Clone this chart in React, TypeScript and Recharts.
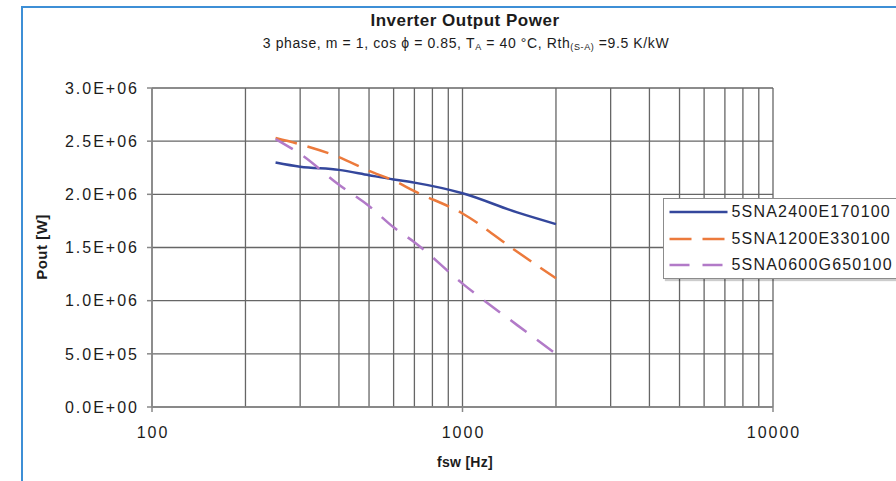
import { CartesianGrid, Legend, Line, LineChart, XAxis, YAxis } from "recharts";

const freqHz = [250, 300, 400, 500, 600, 700, 1000, 1500, 2000];
const pout2400 = [2.3e6, 2.26e6, 2.23e6, 2.18e6, 2.14e6, 2.11e6, 2.01e6, 1.83e6, 1.72e6];
const pout1200 = [2.53e6, 2.47e6, 2.35e6, 2.22e6, 2.13e6, 2.03e6, 1.82e6, 1.46e6, 1.21e6];
const pout0600 = [2.52e6, 2.38e6, 2.09e6, 1.89e6, 1.69e6, 1.55e6, 1.16e6, 0.77e6, 0.5e6];
const seriesNames = ["5SNA2400E170100", "5SNA1200E330100", "5SNA0600G650100"];

const xGridTicks = [100, 200, 300, 400, 500, 600, 700, 800, 900, 1000, 2000, 3000, 4000, 5000, 6000, 7000, 8000, 9000, 10000];
const xLabelTicks = [100, 1000, 10000];
const yTicks = [0, 5e5, 1e6, 1.5e6, 2e6, 2.5e6, 3e6];

const data = freqHz.map((f, i) => ({
  f,
  s2400: pout2400[i],
  s1200: pout1200[i],
  s0600: pout0600[i],
}));

const series = [
  { key: "s2400", name: seriesNames[0], color: "#34479c", dash: undefined },
  { key: "s1200", name: seriesNames[1], color: "#ec7a3c", dash: "22 11" },
  { key: "s0600", name: seriesNames[2], color: "#b27ac8", dash: "20 13" },
];

const FONT = "'Liberation Sans', Arial, sans-serif";
const tickText = { fontFamily: FONT, fontSize: 16, letterSpacing: 2, fill: "#1c1c1c" };

function sci(v: number) {
  if (v === 0) return "0.0E+00";
  const e = Math.floor(Math.log10(v));
  return `${(v / 10 ** e).toFixed(1)}E+${String(e).padStart(2, "0")}`;
}

function FreqTick(props: any) {
  const { x, y, payload } = props;
  if (!xLabelTicks.includes(payload.value)) return <g />;
  const axisY = y - 10;
  return (
    <g>
      <line x1={x} x2={x} y1={axisY} y2={axisY + 5} stroke="#888" strokeWidth={1.5} />
      <text x={x + 1} y={axisY + 31} textAnchor="middle" style={tickText}>
        {payload.value}
      </text>
    </g>
  );
}

function LegendBox() {
  return (
    <div
      style={{
        boxSizing: "border-box",
        width: 260,
        height: 81,
        background: "#fff",
        border: "1.5px solid #8c8c8c",
        boxShadow: "2px 2px 1px rgba(0,0,0,0.2)",
      }}
    >
      {series.map((s) => (
        <div key={s.key} style={{ display: "flex", alignItems: "center", height: 26.5 }}>
          <svg width={64} height={10} style={{ flex: "none" }}>
            <line x1={5.5} x2={63.5} y1={5} y2={5} stroke={s.color} strokeWidth={2.5} strokeDasharray={s.dash} />
          </svg>
          <span
            style={{
              marginLeft: 3.5,
              fontFamily: FONT,
              fontSize: 16,
              letterSpacing: 1.2,
              color: "#1c1c1c",
              whiteSpace: "nowrap",
            }}
          >
            {s.name}
          </span>
        </div>
      ))}
    </div>
  );
}

export default function App() {
  return (
    <div
      style={{
        position: "absolute",
        left: 0,
        top: 0,
        width: 896,
        height: 481,
        overflow: "hidden",
        background: "#fff",
      }}
    >
      <div
        style={{
          position: "absolute",
          left: 21,
          top: 5.5,
          width: 900,
          height: 500,
          borderTop: "2px solid #3d8fd6",
          borderLeft: "2px solid #3d8fd6",
        }}
      />
      <LineChart width={896} height={481} data={data} margin={{ top: 88, right: 123, bottom: 44, left: 22 }}>
        <CartesianGrid stroke="#666" strokeWidth={1.3} />
        <XAxis
          dataKey="f"
          type="number"
          scale="log"
          domain={[100, 10000]}
          ticks={xGridTicks}
          interval={0}
          allowDataOverflow
          height={30}
          tickSize={5}
          tickMargin={5}
          tickLine={false}
          axisLine={{ stroke: "#888", strokeWidth: 1.5 }}
          tick={<FreqTick />}
        />
        <YAxis
          type="number"
          domain={[0, 3e6]}
          ticks={yTicks}
          interval={0}
          width={130}
          tickSize={5}
          tickMargin={8}
          tickFormatter={sci}
          tickLine={{ stroke: "#888", strokeWidth: 1.5 }}
          axisLine={{ stroke: "#888", strokeWidth: 1.5 }}
          tick={tickText}
        />
        <Legend
          layout="horizontal"
          verticalAlign="middle"
          align="center"
          wrapperStyle={{ left: 663, top: 198, width: 260, height: 81 }}
          content={() => <LegendBox />}
        />
        {series.map((s) => (
          <Line
            key={s.key}
            dataKey={s.key}
            name={s.name}
            type="monotone"
            stroke={s.color}
            strokeWidth={2.5}
            strokeDasharray={s.dash}
            dot={false}
            isAnimationActive={false}
          />
        ))}
      </LineChart>
      <div
        style={{
          position: "absolute",
          left: 0,
          width: 930,
          top: 11,
          lineHeight: "20px",
          textAlign: "center",
          fontFamily: FONT,
          fontWeight: "bold",
          fontSize: 17,
          letterSpacing: 0.5,
          color: "#1c1c1c",
        }}
      >
        Inverter Output Power
      </div>
      <div
        style={{
          position: "absolute",
          left: 0,
          width: 932,
          top: 34,
          lineHeight: "18px",
          textAlign: "center",
          fontFamily: FONT,
          fontSize: 14,
          letterSpacing: 0.6,
          color: "#1c1c1c",
          whiteSpace: "nowrap",
        }}
      >
        3 phase, m = 1, cos ϕ = 0.85, T<span style={{ fontSize: 9, verticalAlign: "-2px" }}>A</span> = 40 °C, Rth
        <span style={{ fontSize: 9, verticalAlign: "-2px" }}>(S-A)</span> =9.5 K/kW
      </div>
      <div
        style={{
          position: "absolute",
          left: -8,
          width: 100,
          top: 237,
          lineHeight: "20px",
          textAlign: "center",
          transform: "rotate(-90deg)",
          fontFamily: FONT,
          fontWeight: "bold",
          fontSize: 15,
          letterSpacing: 0.5,
          color: "#1c1c1c",
        }}
      >
        Pout [W]
      </div>
      <div
        style={{
          position: "absolute",
          left: 415,
          width: 100,
          top: 452,
          lineHeight: "20px",
          textAlign: "center",
          fontFamily: FONT,
          fontWeight: "bold",
          fontSize: 14,
          letterSpacing: 0.3,
          color: "#1c1c1c",
        }}
      >
        fsw [Hz]
      </div>
    </div>
  );
}
